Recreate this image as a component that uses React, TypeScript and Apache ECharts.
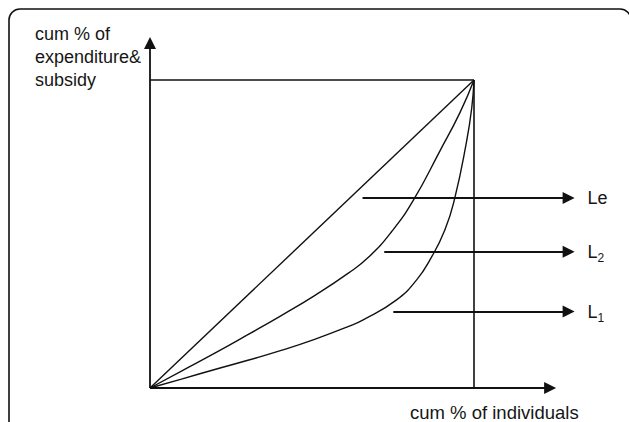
import React, { useEffect, useRef } from "react";
import * as echarts from "echarts";

// Lorenz-type curves, cum % of individuals (x) vs cum % of expenditure & subsidy (y)
const equalityLine: [number, number][] = [
  [0, 0],
  [100, 100],
];
const curveL2: [number, number][] = [
  [0, 0],
  [9.7, 5.5],
  [20.0, 11.3],
  [30.2, 17.3],
  [40.5, 23.5],
  [50.8, 30.0],
  [61.1, 37.2],
  [67.5, 42.5],
  [74.6, 50.8],
  [81.3, 61.0],
  [89.5, 77.0],
  [95.7, 89.5],
  [100, 100],
];
const curveL1: [number, number][] = [
  [0, 0],
  [9.7, 2.9],
  [20.0, 6.0],
  [30.2, 9.0],
  [40.5, 12.2],
  [50.8, 15.8],
  [61.1, 19.9],
  [65.8, 22.1],
  [76.1, 28.6],
  [82.3, 35.1],
  [86.4, 41.6],
  [91.0, 51.3],
  [94.1, 61.8],
  [97.7, 80.0],
  [99.3, 90.9],
  [100, 100],
];
const boxTop: [number, number][] = [
  [0, 100],
  [100, 100],
];
const boxRight: [number, number][] = [
  [100, 0],
  [100, 100],
];
const axisArrows: [number, number][][] = [
  [
    [0, 0],
    [123.5, 0],
  ],
  [
    [0, 0],
    [0, 112],
  ],
];
const labelArrows: { name: string; coords: [number, number][] }[] = [
  { name: "Le", coords: [[65.6, 61.7], [129.2, 61.7]] },
  { name: "L2", coords: [[72.3, 44.2], [129.2, 44.2]] },
  { name: "L1", coords: [[75.1, 24.8], [129.2, 24.8]] },
];
const xTitle = "cum % of individuals";
const yTitle = ["cum % of", "expenditure&", "subsidy"];

const X_MAX = 140;
const Y_MAX = 115;
const PX_X = 3.24;
const PX_Y = 3.08;
const ORIGIN_X = 150;
const ORIGIN_Y = 388;
const FONT = '"Liberation Sans", Arial, sans-serif';
const INK = "#111";
const TEXT = "#161616";

export default function App() {
  const ref = useRef<HTMLDivElement>(null);
  useEffect(() => {
    if (!ref.current) return;
    const chart = echarts.init(ref.current, undefined, { renderer: "svg" });
    const lineSeries = (data: [number, number][], smooth: boolean, width: number) => ({
      type: "line",
      data,
      smooth: smooth ? 0.5 : false,
      showSymbol: false,
      symbol: "none",
      clip: false,
      lineStyle: { color: INK, width },
      silent: true,
    });
    chart.setOption({
      animation: false,
      backgroundColor: "#fff",
      grid: {
        left: ORIGIN_X,
        top: ORIGIN_Y - Y_MAX * PX_Y,
        width: X_MAX * PX_X,
        height: Y_MAX * PX_Y,
      },
      xAxis: { type: "value", min: 0, max: X_MAX, show: false },
      yAxis: { type: "value", min: 0, max: Y_MAX, show: false },
      graphic: [
        {
          type: "rect",
          shape: { x: 9, y: 9, width: 622, height: 440, r: 11 },
          style: { fill: "none", stroke: INK, lineWidth: 1.6 },
          silent: true,
        },
        {
          type: "text",
          x: 35,
          y: 22,
          style: {
            text: yTitle.join("\n"),
            font: `18px ${FONT}`,
            lineHeight: 23,
            fill: TEXT,
            textVerticalAlign: "top",
          },
        },
        {
          type: "text",
          x: 410,
          y: 412,
          style: {
            text: xTitle,
            font: `18.5px ${FONT}`,
            fill: TEXT,
            textVerticalAlign: "middle",
          },
        },
      ],
      series: [
        lineSeries(equalityLine, false, 1.4),
        lineSeries(curveL2, true, 1.4),
        lineSeries(curveL1, true, 1.4),
        lineSeries(boxTop, false, 1.4),
        lineSeries(boxRight, false, 1.6),
        {
          type: "lines",
          coordinateSystem: "cartesian2d",
          clip: false,
          silent: true,
          symbol: ["none", "triangle"],
          symbolSize: [9, 12],
          lineStyle: { color: INK, width: 1.8, opacity: 1 },
          data: axisArrows.map((c) => ({ coords: c })),
        },
        {
          type: "lines",
          coordinateSystem: "cartesian2d",
          clip: false,
          silent: true,
          symbol: ["none", "triangle"],
          symbolSize: [9, 12],
          lineStyle: { color: INK, width: 1.8, opacity: 1 },
          label: {
            show: true,
            position: "end",
            distance: 19,
            color: TEXT,
            formatter: (p: any) => {
              const n = p.name as string;
              if (n === "Le") return "{m|Le}";
              return `{m|L}{s|${n.slice(1)}}`;
            },
            rich: {
              m: { fontSize: 18, fontFamily: FONT, color: TEXT, lineHeight: 22 },
              s: { fontSize: 12, fontFamily: FONT, color: TEXT, lineHeight: 22, padding: [12, 0, 0, 0] },
            },
          },
          data: labelArrows.map((a) => ({ name: a.name, coords: a.coords })),
        },
      ],
    });
    return () => chart.dispose();
  }, []);
  return (
    <div
      ref={ref}
      style={{ position: "fixed", left: 0, top: 0, width: 629, height: 422, background: "#fff" }}
    />
  );
}
